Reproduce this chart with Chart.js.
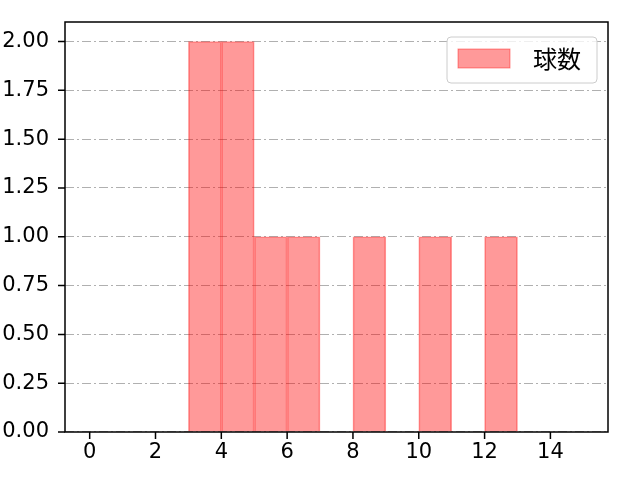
<!DOCTYPE html>
<html><head><meta charset="utf-8">
<script src="https://cdn.jsdelivr.net/npm/chart.js@4"></script>
<style>html,body{margin:0;padding:0;background:#fff}#wrap{width:640px;height:480px}</style>
</head><body><div id="wrap"><canvas id="c" width="640" height="480"></canvas></div>
<script>
const seriesLabel = '球数';
const binLefts = [3, 4, 5, 6, 8, 10, 12];
const binWidth = 1;
const counts = [2, 2, 1, 1, 1, 1, 1];
const xTicks = [0, 2, 4, 6, 8, 10, 12, 14];
const yTicks = [0, 0.25, 0.5, 0.75, 1.0, 1.25, 1.5, 1.75, 2.0];
const xRange = [-0.75, 15.75];
const yRange = [0, 2.1];

const FONT = "'DejaVu Sans', sans-serif";
const FS = 21;

const framePlugin = {
  id: 'frame',
  afterDraw(chart) {
    const {ctx, chartArea: a, scales} = chart;
    ctx.save();
    ctx.strokeStyle = '#000';
    ctx.lineWidth = 1.5;
    ctx.strokeRect(a.left, a.top, a.right - a.left, a.bottom - a.top);
    ctx.beginPath();
    xTicks.forEach(v => { const x = scales.x.getPixelForValue(v); ctx.moveTo(x, a.bottom); ctx.lineTo(x, a.bottom + 7); });
    yTicks.forEach(v => { const y = scales.y.getPixelForValue(v); ctx.moveTo(a.left, y); ctx.lineTo(a.left - 7, y); });
    ctx.stroke();
    // legend
    const bx = 447, by = 37, bw = 150, bh = 46, r = 4;
    ctx.fillStyle = 'rgba(255,255,255,0.8)';
    ctx.strokeStyle = '#cccccc';
    ctx.lineWidth = 1;
    ctx.beginPath();
    ctx.roundRect(bx, by, bw, bh, r);
    ctx.fill(); ctx.stroke();
    ctx.fillStyle = 'rgba(255,0,0,0.4)';
    ctx.strokeStyle = 'rgba(255,0,0,0.4)';
    ctx.fillRect(458, 49, 52, 19);
    ctx.strokeRect(458, 49, 52, 19);
    ctx.fillStyle = '#000';
    ctx.font = "24px 'Noto Sans CJK JP', sans-serif";
    ctx.textBaseline = 'middle';
    ctx.textAlign = 'left';
    ctx.fillText(chart.data.datasets[0].label, 533, 59);
    ctx.restore();
  }
};

new Chart(document.getElementById('c'), {
  type: 'bar',
  data: {
    datasets: [{
      label: seriesLabel,
      data: binLefts.map((l, i) => ({x: l + binWidth / 2, y: counts[i]})),
      backgroundColor: 'rgba(255,0,0,0.4)',
      borderColor: 'rgba(255,0,0,0.4)',
      borderWidth: 1,
      borderSkipped: 'bottom',
      barPercentage: 1,
      categoryPercentage: 1
    }]
  },
  options: {
    responsive: false,
    animation: false,
    layout: {padding: {top: 22, right: 32, left: 0, bottom: 0}},
    plugins: {legend: {display: false}, tooltip: {enabled: false}},
    scales: {
      x: {
        type: 'linear', min: xRange[0], max: xRange[1], offset: false,
        afterBuildTicks: s => { s.ticks = xTicks.map(v => ({value: v})); },
        afterFit: s => { s.height = 48; s.paddingLeft = 0; s.paddingRight = 0; },
        grid: {display: false, drawTicks: false, offset: false},
        border: {display: false},
        ticks: {color: '#000', font: {family: FONT, size: FS}, padding: 8, maxRotation: 0, autoSkip: false}
      },
      y: {
        min: yRange[0], max: yRange[1],
        afterBuildTicks: s => { s.ticks = yTicks.map(v => ({value: v})); },
        afterFit: s => { s.width = 65; s.paddingTop = 0; s.paddingBottom = 0; },
        grid: {color: '#b0b0b0', lineWidth: 1.1, drawTicks: false},
        border: {display: false, dash: [9, 3, 2, 3]},
        ticks: {color: '#000', font: {family: FONT, size: FS}, padding: 16, autoSkip: false,
          callback: v => Number(v).toFixed(2)}
      }
    }
  },
  plugins: [framePlugin]
});
</script></body></html>
